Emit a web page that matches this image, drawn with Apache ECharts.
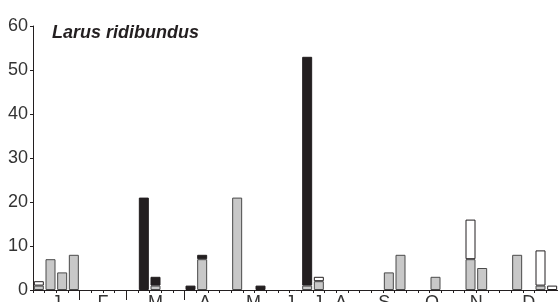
<!DOCTYPE html>
<html><head><meta charset="utf-8">
<script src="https://cdn.jsdelivr.net/npm/echarts@6/dist/echarts.min.js"></script>
<style>html,body{margin:0;padding:0;background:#fff}#c{width:558px;height:302px}</style>
</head><body><div id="c"></div>
<script>
// 48 weekly slots
var slots = Array.from({length:48}, function(_, i){ return 'w' + (i+1); });
var grayVals  = [1,7,4,8, 0,0,0,0, 0,0,1,0, 0,0,7,0, 0,21,0,0, 0,0,0,1, 2,0,0,0, 0,0,4,8, 0,0,3,0, 0,7,5,0, 0,8,0,1, 0,0,0,0];
var blackVals = [0,0,0,0, 0,0,0,0, 0,21,2,0, 0,1,1,0, 0,0,0,1, 0,0,0,52, 0,0,0,0, 0,0,0,0, 0,0,0,0, 0,0,0,0, 0,0,0,0, 0,0,0,0];
var whiteVals = [1,0,0,0, 0,0,0,0, 0,0,0,0, 0,0,0,0, 0,0,0,0, 0,0,0,0, 1,0,0,0, 0,0,0,0, 0,0,0,0, 0,9,0,0, 0,0,0,8, 1,0,0,0];
var monthLabels = ['J','F','M','A','M','J','J','A','S','O','N','D'];
var monthLabelPos = [2, 6, 10.5, 14.75, 18.9, 22, 24.4, 26.4, 30.1, 34.2, 38, 42.5];
var monthBoundaries = [4, 8, 13];
var yTicks = [0,10,20,30,40,50,60];

function clean(a){ return a.map(function(v){ return v ? v : '-'; }); }
var font = 'Liberation Sans';
var chart = echarts.init(document.getElementById('c'), null, {renderer:'canvas'});
chart.setOption({
  animation:false,
  title:{text:'Larus ridibundus', left:52, top:24, padding:0,
    textStyle:{fontFamily:font, fontSize:18, fontWeight:'bold', fontStyle:'italic', color:'#231f20'}},
  grid:{left:33, top:26, bottom:12, right:-35, containLabel:false, outerBoundsMode:'none'},
  xAxis:[{
    type:'category', data:slots, position:'bottom',
    axisLine:{show:true, lineStyle:{color:'#231f20', width:1}},
    axisTick:{show:true, interval:0, length:3, lineStyle:{color:'#231f20'}},
    axisLabel:{show:false}
  },{
    type:'value', min:0, max:48, position:'bottom',
    axisLine:{show:false}, splitLine:{show:false},
    axisTick:{show:true, length:10, customValues:monthBoundaries, lineStyle:{color:'#231f20'}},
    axisLabel:{show:true, customValues:monthLabelPos, margin:4,
      fontFamily:font, fontSize:18, color:'#333',
      formatter:function(v){ var i = monthLabelPos.indexOf(v); return i>=0 ? monthLabels[i] : ''; }}
  }],
  yAxis:{
    type:'value', min:0, max:60, interval:10,
    axisLine:{show:true, lineStyle:{color:'#231f20'}},
    axisTick:{show:true, length:3, lineStyle:{color:'#231f20'}},
    splitLine:{show:false},
    axisLabel:{fontFamily:font, fontSize:18, color:'#333', margin:5,
      formatter:function(v){ return yTicks.indexOf(v)>=0 ? String(v) : ''; }}
  },
  series:[
    {type:'bar', stack:'s', data:clean(grayVals), barWidth:10,
      itemStyle:{color:'#c8c8c8', borderColor:'#4a4a4a', borderWidth:1}},
    {type:'bar', stack:'s', data:clean(blackVals), barWidth:10,
      itemStyle:{color:'#231f20', borderColor:'#231f20', borderWidth:1}},
    {type:'bar', stack:'s', data:clean(whiteVals), barWidth:10,
      itemStyle:{color:'#ffffff', borderColor:'#231f20', borderWidth:1}}
  ]
});
</script></body></html>
